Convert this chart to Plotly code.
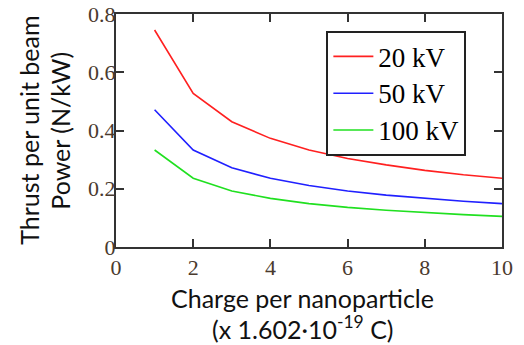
import plotly.graph_objects as go

charge = [1, 2, 3, 4, 5, 6, 7, 8, 9, 10]
thrust_20kv = [0.745, 0.527, 0.430, 0.373, 0.333, 0.304, 0.282, 0.263, 0.248, 0.236]
thrust_50kv = [0.471, 0.333, 0.272, 0.236, 0.211, 0.192, 0.178, 0.167, 0.157, 0.149]
thrust_100kv = [0.333, 0.236, 0.192, 0.167, 0.149, 0.136, 0.126, 0.118, 0.111, 0.105]
series_names = ["20 kV", "50 kV", "100 kV"]
series_colors = ["#ff2020", "#2020ff", "#20e020"]
x_ticks = [0, 2, 4, 6, 8, 10]
y_ticks = [0, 0.2, 0.4, 0.6, 0.8]
y_tick_text = ["0", "0.2", "0.4", "0.6", "0.8"]
x_title_lines = ["Charge per nanoparticle", "(x 1.602·10<sup>-19</sup> C)"]
y_title_lines = ["Thrust per unit beam", "Power (N/kW)"]

fig = go.Figure()
for name, vals, col in zip(series_names, [thrust_20kv, thrust_50kv, thrust_100kv], series_colors):
    fig.add_trace(go.Scatter(
        x=charge, y=vals, mode="lines",
        name='<span style="font-size:27px">' + name + '</span>',
        line=dict(color=col, width=1.6),
    ))

tickfont = dict(family="Liberation Serif", size=22, color="#4a3a2e")
axis_common = dict(
    showline=True, linecolor="#333333", linewidth=2, mirror="allticks",
    ticks="inside", ticklen=8, tickwidth=2, tickcolor="#333333",
    showgrid=False, zeroline=False, tickfont=tickfont, automargin=False,
    ticklabeloverflow="allow",
)

title_font = dict(family="Lato", size=25, color="#111111")
annotations = [
    dict(text=x_title_lines[0], x=0.484, y=-0.220, xref="paper", yref="paper",
         xanchor="center", yanchor="middle", showarrow=False, font=title_font),
    dict(text=x_title_lines[1], x=0.484, y=-0.345, xref="paper", yref="paper",
         xanchor="center", yanchor="middle", showarrow=False, font=title_font),
    dict(text=y_title_lines[0], x=-0.224, y=0.501, xref="paper", yref="paper",
         xanchor="center", yanchor="middle", showarrow=False, font=title_font, textangle=-90),
    dict(text=y_title_lines[1], x=-0.144, y=0.501, xref="paper", yref="paper",
         xanchor="center", yanchor="middle", showarrow=False, font=title_font, textangle=-90),
]

fig.update_layout(
    width=516, height=337,
    margin=dict(l=108, r=22, t=6, b=98, autoexpand=False),
    paper_bgcolor="white", plot_bgcolor="white",
    showlegend=True,
    legend=dict(
        x=0.545, y=0.927, xanchor="left", yanchor="top",
        bordercolor="#222222", borderwidth=2, bgcolor="white",
        font=dict(family="Liberation Serif", size=26, color="black"),
        itemwidth=40,
    ),
    xaxis=dict(range=[0, 10], tickvals=x_ticks, ticktext=[str(v) for v in x_ticks],
               ticklabelstandoff=0, **axis_common),
    yaxis=dict(range=[0, 0.8], tickvals=y_ticks, ticktext=y_tick_text,
               ticklabelstandoff=-6, **axis_common),
    annotations=annotations,
)

fig.write_html("out.html")
